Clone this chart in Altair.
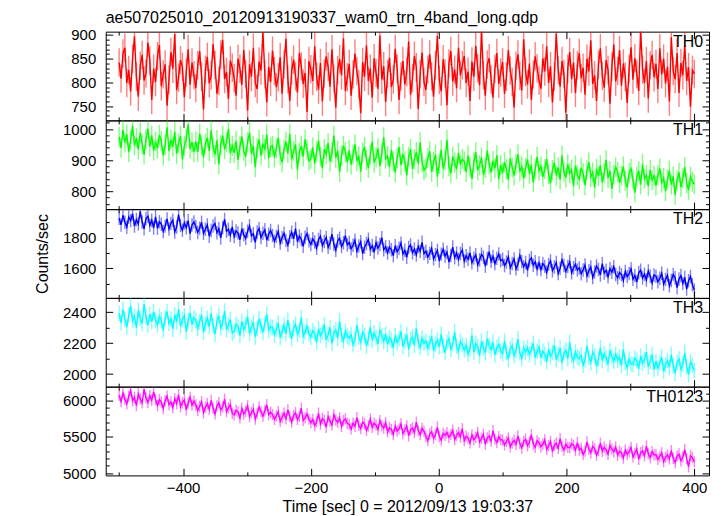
import altair as alt
import pandas as pd

# ---------------- data (3 s sampling) ----------------
times = list(range(-500, 401, 3))

th0 = [842, 808, 861, 873, 799, 826, 781, 850, 897, 812, 770, 835, 858, 804, 819, 884, 846, 763, 829, 801,
       855, 879, 792, 817, 838, 751, 806, 864, 829, 902, 784, 810, 847, 833, 769, 821, 870, 795, 842, 815,
       788, 836, 866, 812, 743, 827, 854, 798, 815, 881, 837, 776, 803, 859, 890, 807, 822, 765, 846, 831,
       809, 772, 850, 829, 795, 868, 817, 741, 838, 812, 873, 799, 786, 844, 825, 906, 817, 758, 833, 801,
       867, 824, 790, 811, 853, 776, 838, 892, 807, 761, 825, 848, 813, 779, 862, 834, 797, 820, 738, 845,
       828, 803, 876, 812, 785, 841, 760, 819, 855, 833, 791, 870, 808, 747, 826, 849, 815, 893, 782, 811,
       839, 772, 817, 861, 824, 796, 735, 843, 812, 878, 803, 829, 768, 851, 820, 787, 899, 806, 834, 759,
       818, 852, 790, 806, 871, 829, 763, 813, 845, 796, 822, 886, 774, 809, 856, 832, 744, 817, 863, 801,
       784, 827, 859, 813, 770, 836, 898, 805, 781, 849, 819, 752, 840, 866, 802, 827, 788, 873, 815, 836,
       856, 799, 823, 761, 844, 812, 877, 830, 794, 909, 815, 772, 838, 851, 806, 768, 829, 862, 797, 821,
       843, 776, 812, 868, 825, 801, 747, 835, 859, 814, 783, 891, 822, 796, 840, 763, 817, 855, 830, 804,
       787, 851, 823, 876, 799, 834, 758, 812, 903, 826, 791, 845, 818, 736, 829, 864, 807, 842, 778, 836,
       862, 809, 831, 774, 850, 823, 889, 797, 815, 761, 838, 872, 814, 789, 847, 826, 755, 833, 880, 802,
       824, 868, 793, 840, 812, 757, 829, 874, 806, 851, 818, 782, 911, 827, 799, 845, 766, 836, 858, 811,
       839, 786, 872, 817, 850, 798, 833, 760, 895, 824, 807, 862, 778, 841, 815, 879, 803, 832, 749, 826,
       818]

th1 = [975, 940, 998, 957, 983, 926, 964, 1011, 948, 971, 935, 989, 952, 918, 967, 1002, 944, 979, 931, 960,
       938, 981, 962, 915, 949, 1006, 930, 967, 944, 991, 921, 955, 978, 903, 946, 969, 1015, 937, 958, 926,
       961, 927, 985, 948, 909, 953, 972, 930, 996, 941, 918, 964, 887, 950, 979, 935, 957, 1001, 922, 946,
       924, 962, 901, 944, 977, 930, 912, 958, 989, 921, 946, 878, 939, 967, 915, 951, 936, 983, 907, 942,
       947, 909, 938, 972, 916, 893, 935, 960, 922, 984, 903, 929, 951, 870, 926, 945, 912, 967, 934, 898,
       905, 941, 889, 928, 963, 912, 874, 936, 919, 955, 896, 924, 979, 908, 931, 862, 915, 947, 926, 893,
       932, 886, 919, 951, 897, 914, 863, 926, 943, 901, 875, 918, 960, 892, 909, 938, 881, 923, 974, 905,
       914, 878, 933, 896, 861, 907, 942, 884, 920, 897, 851, 911, 936, 872, 903, 927, 889, 958, 893, 868,
       876, 907, 929, 863, 895, 918, 847, 889, 934, 872, 901, 966, 881, 858, 912, 893, 871, 924, 886, 904,
       897, 862, 915, 879, 840, 893, 926, 868, 884, 909, 853, 876, 931, 887, 861, 898, 874, 916, 839, 885,
       859, 894, 871, 838, 906, 877, 851, 889, 919, 864, 880, 842, 875, 903, 857, 886, 829, 872, 911, 866,
       881, 847, 872, 904, 855, 826, 869, 893, 851, 877, 838, 915, 862, 844, 887, 858, 870, 817, 883, 852,
       839, 876, 858, 820, 867, 893, 846, 861, 812, 872, 849, 884, 829, 858, 901, 843, 866, 808, 853, 878,
       862, 827, 851, 880, 834, 812, 859, 873, 838, 796, 848, 866, 822, 887, 841, 853, 817, 869, 836, 850,
       819, 852, 874, 828, 843, 801, 838, 867, 822, 848, 789, 835, 861, 814, 842, 878, 826, 804, 847, 831,
       823]

th2 = [1928, 1884, 1947, 1901, 1869, 1935, 1912, 1958, 1876, 1919, 1890, 1972, 1903, 1858, 1926, 1941, 1882, 1915, 1864, 1937,
       1862, 1905, 1889, 1841, 1876, 1923, 1857, 1894, 1915, 1838, 1871, 1952, 1880, 1849, 1897, 1866, 1912, 1827, 1884, 1903,
       1873, 1835, 1862, 1901, 1829, 1856, 1884, 1810, 1848, 1877, 1893, 1833, 1859, 1799, 1866, 1920, 1842, 1855, 1817, 1871,
       1808, 1845, 1831, 1787, 1859, 1819, 1796, 1842, 1878, 1813, 1826, 1770, 1837, 1861, 1801, 1829, 1852, 1784, 1823, 1848,
       1815, 1778, 1809, 1842, 1766, 1801, 1829, 1783, 1752, 1807, 1836, 1792, 1860, 1775, 1811, 1789, 1744, 1803, 1827, 1781,
       1756, 1793, 1772, 1731, 1788, 1810, 1749, 1776, 1802, 1738, 1765, 1823, 1757, 1719, 1781, 1797, 1742, 1768, 1814, 1753,
       1769, 1728, 1751, 1784, 1712, 1746, 1774, 1697, 1738, 1762, 1790, 1725, 1749, 1705, 1768, 1733, 1756, 1801, 1721, 1742,
       1701, 1739, 1722, 1683, 1748, 1709, 1731, 1765, 1694, 1718, 1672, 1737, 1753, 1702, 1726, 1688, 1744, 1711, 1770, 1697,
       1712, 1674, 1698, 1731, 1662, 1689, 1717, 1648, 1693, 1725, 1679, 1706, 1641, 1684, 1739, 1670, 1701, 1658, 1697, 1720,
       1648, 1683, 1659, 1701, 1637, 1667, 1689, 1622, 1655, 1692, 1673, 1614, 1664, 1709, 1646, 1678, 1631, 1666, 1694, 1650,
       1659, 1618, 1641, 1675, 1603, 1632, 1662, 1597, 1627, 1684, 1645, 1611, 1638, 1587, 1651, 1669, 1620, 1643, 1596, 1636,
       1592, 1631, 1613, 1574, 1626, 1649, 1585, 1609, 1638, 1567, 1601, 1656, 1619, 1580, 1612, 1643, 1571, 1604, 1627, 1589,
       1603, 1565, 1589, 1622, 1551, 1584, 1609, 1540, 1576, 1615, 1593, 1557, 1631, 1569, 1587, 1545, 1598, 1574, 1611, 1560,
       1538, 1572, 1559, 1521, 1580, 1546, 1566, 1597, 1529, 1553, 1511, 1571, 1588, 1537, 1562, 1524, 1583, 1549, 1505, 1557,
       1549, 1512, 1536, 1568, 1497, 1528, 1555, 1486, 1521, 1560, 1538, 1474, 1530, 1553, 1502, 1541, 1465, 1519, 1547, 1493,
       1458]

th3 = [2392, 2331, 2418, 2356, 2304, 2381, 2440, 2347, 2373, 2298, 2411, 2359, 2326, 2452, 2368, 2315, 2387, 2339, 2402, 2350,
       2317, 2374, 2349, 2281, 2362, 2405, 2328, 2356, 2290, 2383, 2338, 2419, 2309, 2351, 2377, 2272, 2345, 2396, 2321, 2364,
       2348, 2296, 2337, 2385, 2270, 2325, 2361, 2304, 2392, 2313, 2258, 2342, 2378, 2299, 2331, 2407, 2287, 2319, 2353, 2266,
       2276, 2322, 2305, 2249, 2341, 2288, 2317, 2372, 2263, 2301, 2335, 2240, 2294, 2358, 2311, 2269, 2327, 2386, 2283, 2306,
       2301, 2253, 2289, 2330, 2236, 2274, 2315, 2261, 2349, 2280, 2228, 2297, 2322, 2257, 2283, 2366, 2245, 2271, 2309, 2262,
       2238, 2279, 2262, 2205, 2293, 2247, 2271, 2320, 2219, 2256, 2301, 2198, 2264, 2287, 2232, 2343, 2250, 2213, 2276, 2244,
       2231, 2255, 2190, 2224, 2317, 2240, 2206, 2273, 2249, 2182, 2228, 2301, 2219, 2265, 2236, 2194, 2288, 2247, 2211, 2259,
       2193, 2236, 2218, 2167, 2249, 2204, 2228, 2275, 2178, 2213, 2257, 2159, 2222, 2241, 2186, 2296, 2207, 2172, 2231, 2199,
       2214, 2168, 2201, 2243, 2151, 2192, 2220, 2176, 2258, 2183, 2139, 2207, 2229, 2161, 2196, 2272, 2180, 2145, 2211, 2188,
       2155, 2187, 2129, 2163, 2250, 2142, 2199, 2178, 2117, 2213, 2170, 2136, 2231, 2183, 2158, 2205, 2124, 2171, 2192, 2149,
       2131, 2214, 2139, 2095, 2163, 2185, 2118, 2152, 2228, 2136, 2101, 2167, 2143, 2170, 2126, 2158, 2199, 2107, 2148, 2176,
       2106, 2147, 2129, 2081, 2160, 2114, 2139, 2186, 2092, 2126, 2168, 2073, 2134, 2155, 2099, 2205, 2118, 2085, 2143, 2111,
       2099, 2123, 2057, 2092, 2183, 2108, 2074, 2142, 2119, 2051, 2096, 2170, 2088, 2131, 2104, 2062, 2153, 2114, 2083, 2127,
       2090, 2111, 2054, 2161, 2075, 2041, 2098, 2066, 2061, 2103, 2085, 2036, 2117, 2070, 2095, 2142, 2047, 2082, 2124, 2029,
       2083, 2039, 2071, 2110, 2018, 2060, 2087, 2044, 2126, 2052, 2006, 2075, 2098, 2031, 2064, 2139, 2048, 1997, 2079, 2055,
       2021]

th0123 = [6071, 5984, 6102, 6015, 5953, 6058, 6137, 5996, 6043, 5928, 6089, 6021, 5967, 6154, 6035, 5972, 6066, 6004, 6118, 6012,
          5931, 6012, 5977, 5889, 5996, 6058, 5943, 5981, 5902, 6024, 5958, 6081, 5917, 5969, 6008, 5872, 5965, 6043, 5936, 5990,
          5938, 5862, 5917, 5983, 5831, 5906, 5955, 5877, 6002, 5893, 5815, 5924, 5971, 5868, 5911, 6019, 5846, 5897, 5942, 5824,
          5801, 5866, 5843, 5761, 5889, 5812, 5851, 5926, 5779, 5834, 5880, 5745, 5822, 5909, 5847, 5783, 5859, 5941, 5804, 5838,
          5806, 5739, 5788, 5846, 5712, 5766, 5825, 5749, 5871, 5778, 5701, 5795, 5831, 5736, 5782, 5893, 5725, 5760, 5814, 5743,
          5694, 5739, 5655, 5705, 5824, 5676, 5752, 5724, 5629, 5777, 5715, 5663, 5803, 5731, 5698, 5761, 5641, 5722, 5746, 5687,
          5671, 5608, 5689, 5645, 5764, 5654, 5612, 5703, 5677, 5588, 5649, 5741, 5629, 5686, 5660, 5601, 5722, 5652, 5620, 5695,
          5567, 5624, 5602, 5531, 5647, 5579, 5610, 5676, 5545, 5593, 5649, 5514, 5598, 5621, 5558, 5703, 5586, 5529, 5617, 5575,
          5508, 5447, 5539, 5571, 5481, 5527, 5631, 5502, 5455, 5548, 5519, 5558, 5493, 5534, 5589, 5462, 5521, 5561, 5498, 5612,
          5448, 5509, 5482, 5416, 5527, 5461, 5493, 5559, 5428, 5478, 5534, 5397, 5486, 5512, 5441, 5583, 5469, 5421, 5501, 5457,
          5456, 5389, 5433, 5482, 5361, 5415, 5452, 5398, 5511, 5406, 5346, 5438, 5467, 5377, 5425, 5529, 5401, 5355, 5447, 5418,
          5363, 5397, 5458, 5327, 5378, 5437, 5296, 5384, 5411, 5340, 5476, 5369, 5319, 5399, 5355, 5351, 5406, 5382, 5312, 5421,
          5318, 5343, 5255, 5304, 5431, 5327, 5279, 5368, 5338, 5248, 5309, 5412, 5301, 5356, 5322, 5262, 5381, 5331, 5293, 5357,
          5246, 5301, 5279, 5208, 5316, 5258, 5292, 5353, 5224, 5273, 5332, 5191, 5281, 5306, 5237, 5372, 5265, 5215, 5295, 5251,
          5254, 5189, 5231, 5278, 5158, 5218, 5252, 5196, 5309, 5205, 5143, 5236, 5263, 5171, 5222, 5324, 5199, 5088, 5241, 5213,
          5154]

# 1-sigma error of each band (light error bars)
errors = [30, 32, 44, 50, 78]

labels = ["TH0", "TH1", "TH2", "TH3", "TH0123"]
colors = ["#ff0000", "#00ff00", "#0000ff", "#00ffff", "#ff00ff"]
series = [th0, th1, th2, th3, th0123]
y_domains = [[720, 907], [743, 1028], [1407, 1987], [1919, 2492], [4969, 6190]]
y_major_labels = [[750, 800, 850, 900], [800, 900, 1000], [1600, 1800], [2000, 2200, 2400], [5000, 5500, 6000]]
y_minor_step = [10, 20, 100, 100, 100]
y_major_step = [50, 100, 200, 200, 500]
x_domain = [-521, 423]
x_tick_values = [-500, -400, -300, -200, -100, 0, 100, 200, 300, 400]
x_label_values = [-400, -200, 0, 200, 400]

title_text = "ae507025010_20120913190337_wam0_trn_4band_long.qdp"
x_title = "Time [sec] 0 = 2012/09/13 19:03:37"
y_title = "Counts/sec"

FONT = "Liberation Sans"
W = 605
H = 89


def tsize(major):
    return {"condition": {"test": f"datum.value % {major} === 0", "value": 7}, "value": 3.5}


def tick_axis(orient, offset, values, major):
    return alt.Axis(orient=orient, offset=offset, labels=False, domain=False, grid=False,
                    title=None, values=values, tickSize=tsize(major), tickColor="black",
                    tickWidth=1, zindex=1)


panels = []
for i in range(5):
    df = pd.DataFrame({"t": times, "v": series[i]})
    lo, hi = y_domains[i]
    st = y_minor_step[i]
    y_ticks = [v for v in range((lo // st + 1) * st, hi + 1, st)]
    xs = alt.Scale(domain=x_domain, nice=False, zero=False)
    ys = alt.Scale(domain=y_domains[i], nice=False, zero=False)
    base = alt.Chart(df)

    bars = base.transform_calculate(
        lo=f"datum.v - {errors[i]}", hi=f"datum.v + {errors[i]}"
    ).mark_rule(color=colors[i], opacity=0.5, strokeWidth=1.4, clip=True).encode(
        x=alt.X("t:Q", scale=xs, axis=tick_axis("top", -H, x_tick_values, 200)),
        y=alt.Y("lo:Q", scale=ys, axis=tick_axis("right", -W, y_ticks, y_major_step[i])),
        y2="hi:Q",
    )
    line = base.mark_line(color=colors[i], strokeWidth=1.4, clip=True).encode(
        x=alt.X("t:Q", scale=xs, axis=tick_axis("bottom", -H, x_tick_values, 200)),
        y=alt.Y("v:Q", scale=ys, axis=tick_axis("left", -W, y_ticks, y_major_step[i])),
    )
    if i == 4:
        xlab = alt.X("t:Q", scale=xs, axis=alt.Axis(
            orient="bottom", values=x_label_values, ticks=False, domain=False, grid=False,
            labelFontSize=15, labelPadding=5, labelColor="black", labelFont=FONT,
            title=x_title, titleFontSize=16, titleFontWeight="normal", titleFont=FONT,
            titleColor="black", titlePadding=3, labelOverlap=False, format="d"))
    else:
        xlab = alt.X("t:Q", scale=xs, axis=None)
    yaxis_kw = dict(orient="left", values=y_major_labels[i], ticks=False, domain=False, grid=False,
                    labelFontSize=15, labelPadding=10, labelColor="black", labelFont=FONT,
                    labelOverlap=False, format="d")
    if i == 2:
        yaxis_kw.update(title=y_title, titleFontSize=16, titleFontWeight="normal", titleFont=FONT,
                        titleColor="black", titlePadding=12)
    else:
        yaxis_kw.update(title=None)
    ghost = base.mark_line(opacity=0).encode(
        x=xlab,
        y=alt.Y("v:Q", scale=ys, axis=alt.Axis(**yaxis_kw)),
    )
    txt = alt.Chart(pd.DataFrame({"lab": [labels[i]]})).mark_text(
        align="right", baseline="alphabetic", fontSize=16, font=FONT, color="black"
    ).encode(x=alt.value(W - 6), y=alt.value(15), text="lab:N")

    layer = alt.layer(bars, line, ghost, txt).resolve_axis(x="independent", y="independent")
    if i == 0:
        layer = layer.properties(width=W, height=H, title=alt.Title(
            title_text, anchor="start", fontSize=16, font=FONT, fontWeight="normal",
            color="black", offset=2, frame="group"))
    else:
        layer = layer.properties(width=W, height=H)
    panels.append(layer)

chart = alt.vconcat(*panels, spacing=0, bounds="flush").properties(
    padding={"left": 26, "top": 0, "right": 5, "bottom": 0}, background="white"
).configure(font=FONT).configure_view(stroke="black", strokeWidth=1)

chart.save("out.html", embed_options={"renderer": "svg", "actions": False})
